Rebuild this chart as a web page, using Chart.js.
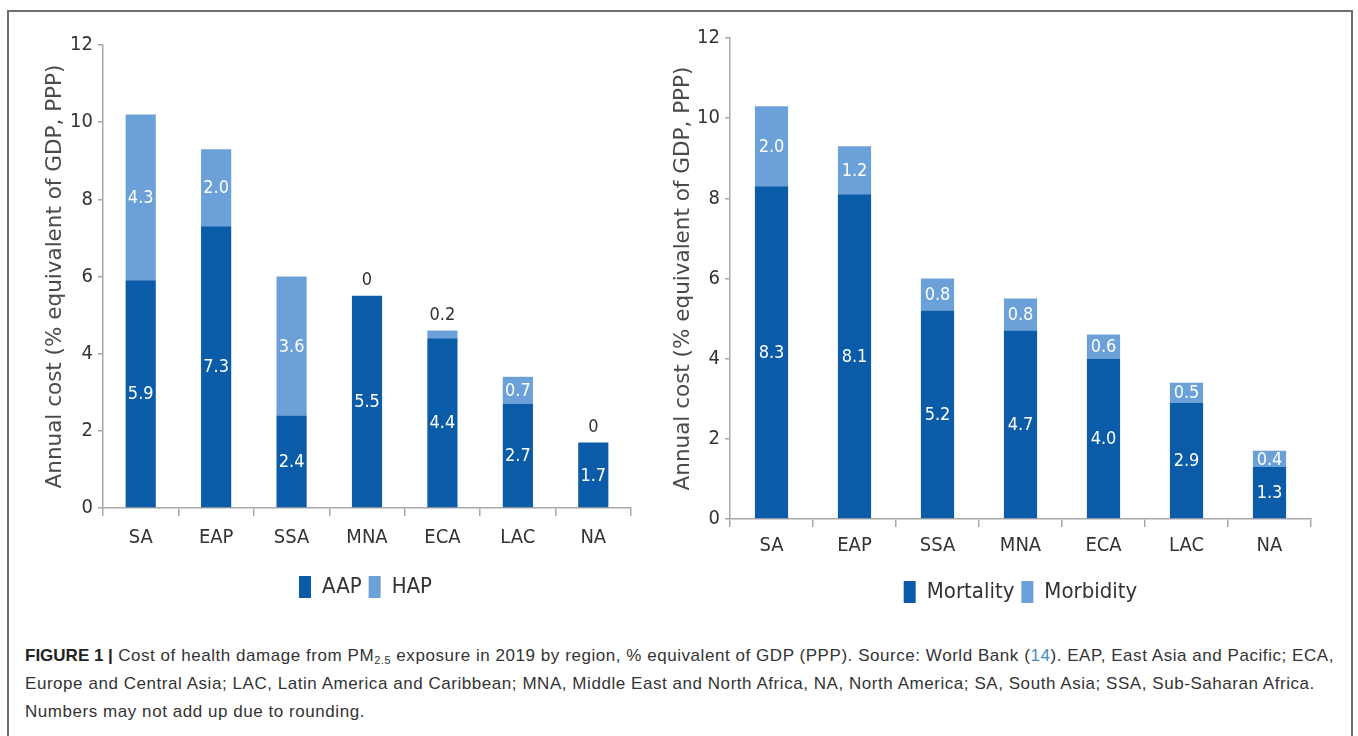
<!DOCTYPE html>
<html>
<head>
<meta charset="utf-8">
<script src="https://cdn.jsdelivr.net/npm/chart.js@4.4.1/dist/chart.umd.min.js"></script>
<style>
  html, body { margin: 0; padding: 0; background: #fff; }
  body { width: 1358px; height: 736px; position: relative; overflow: hidden; }
  .frame { position: absolute; left: 7px; top: 10px; width: 1346px; height: 760px; border: 2px solid #6e6e6e; box-sizing: border-box; }
  .box { position: absolute; }
  #left { left: 10px; top: 20px; width: 650px; height: 590px; }
  #right { left: 650px; top: 10px; width: 690px; height: 600px; }
  .caption { position: absolute; left: 25px; top: 642px; width: 1320px; font-family: 'Liberation Sans', Arial, sans-serif; font-size: 17px; letter-spacing: 0.55px; line-height: 28px; color: #333; white-space: nowrap; }
  .caption b { color: #222; letter-spacing: 0; }
  .caption sub { font-size: 11px; vertical-align: -3px; line-height: 0; }
  .caption .ref { color: #3d8fc9; }
</style>
</head>
<body>
<div class="frame"></div>
<div class="box" id="left"><canvas id="cLeft"></canvas></div>
<div class="box" id="right"><canvas id="cRight"></canvas></div>
<div class="caption">
  <b>FIGURE 1 |</b> Cost of health damage from PM<sub>2.5</sub> exposure in 2019 by region, % equivalent of GDP (PPP). Source: World Bank (<span class="ref">14</span>). EAP, East Asia and Pacific; ECA,<br>
  Europe and Central Asia; LAC, Latin America and Caribbean; MNA, Middle East and North Africa, NA, North America; SA, South Asia; SSA, Sub-Saharan Africa.<br>
  Numbers may not add up due to rounding.
</div>
<script>
const regions = ['SA', 'EAP', 'SSA', 'MNA', 'ECA', 'LAC', 'NA'];
const aap = [5.9, 7.3, 2.4, 5.5, 4.4, 2.7, 1.7];
const hap = [4.3, 2.0, 3.6, 0, 0.2, 0.7, 0];
const mortality = [8.3, 8.1, 5.2, 4.7, 4.0, 2.9, 1.3];
const morbidity = [2.0, 1.2, 0.8, 0.8, 0.6, 0.5, 0.4];
const yTitle = 'Annual cost (% equivalent of GDP, PPP)';

const DARK = '#0b5ca8';
const LIGHT = '#6ba1d8';
const AXIS = '#a8a8a8';
const NARROW = "'Liberation Sans Narrow', 'DejaVu Sans Condensed', sans-serif";

// value labels in the middle of each segment, tiny ones go above the bar
const segLabels = {
  id: 'segLabels',
  afterLayout(chart, args, opts) {
    // nudge the legend under the plot like in the original figure
    const lg = chart.legend;
    if (!lg) return;
    lg.left += opts.legendDx; lg.right += opts.legendDx;
    lg.top += opts.legendDy; lg.bottom += opts.legendDy;
  },
  afterDatasetsDraw(chart, args, opts) {
    const ctx = chart.ctx;
    ctx.save();
    ctx.font = `18px ${NARROW}`;
    ctx.textAlign = 'center';
    ctx.textBaseline = 'middle';
    chart.data.datasets.forEach((ds, di) => {
      const meta = chart.getDatasetMeta(di);
      meta.data.forEach((bar, i) => {
        const v = ds.data[i];
        const p = bar.getProps(['x', 'y', 'base'], true);
        const txt = v === 0 ? '0' : v.toFixed(1);
        if (v < opts.minInside) {
          ctx.fillStyle = '#333';
          ctx.fillText(txt, p.x, p.y - 15);
        } else {
          ctx.fillStyle = '#fff';
          ctx.fillText(txt, p.x, (p.y + p.base) / 2 + 1);
        }
      });
    });
    ctx.restore();
  }
};

function makeChart(id, names, a, b, o) {
  return new Chart(document.getElementById(id), {
    type: 'bar',
    data: {
      labels: regions,
      datasets: [
        { label: names[0], data: a, backgroundColor: DARK },
        { label: names[1], data: b, backgroundColor: LIGHT }
      ]
    },
    plugins: [segLabels],
    options: {
      responsive: true,
      maintainAspectRatio: false,
      animation: false,
      layout: { padding: o.pad },
      datasets: { bar: { categoryPercentage: 1, barPercentage: 0.4 } },
      plugins: {
        tooltip: { enabled: false },
        segLabels: { minInside: o.minInside, legendDx: o.legendDx, legendDy: o.legendDy },
        legend: {
          position: 'bottom',
          labels: {
            boxWidth: 12, boxHeight: 22, padding: 7,
            color: '#333', font: { family: NARROW, size: 22 }
          }
        }
      },
      scales: {
        x: {
          stacked: true,
          afterFit: s => { s.height = o.xHeight; },
          border: { color: AXIS, width: 1.5 },
          grid: { drawOnChartArea: false, offset: true, tickLength: 8, color: AXIS, lineWidth: 1.5 },
          ticks: { color: '#333', padding: o.xPad, font: { family: NARROW, size: 20 } }
        },
        y: {
          stacked: true,
          min: 0, max: 12,
          afterFit: s => { s.width = o.yWidth; },
          border: { color: AXIS, width: 1.5 },
          grid: { drawOnChartArea: false, tickLength: 5, color: AXIS, lineWidth: 1.5 },
          ticks: { stepSize: 2, color: '#333', padding: 5, font: { family: NARROW, size: 20 } },
          title: {
            display: true, text: yTitle, color: '#4a4a4a',
            padding: { top: o.titlePad, bottom: 0 },
            font: { family: "'DejaVu Sans', Verdana, sans-serif", size: 21.5 }
          }
        }
      }
    }
  });
}

makeChart('cLeft', ['AAP', 'HAP'], aap, hap, {
  pad: { left: 20, right: 29, top: 25, bottom: 5 },
  xHeight: 58, xPad: 10, yWidth: 73, titlePad: 13, minInside: 0.5,
  legendDx: 35, legendDy: 3
});
makeChart('cRight', ['Mortality', 'Morbidity'], mortality, morbidity, {
  pad: { left: 10, right: 29, top: 28, bottom: 0 },
  xHeight: 52, xPad: 7, yWidth: 70, titlePad: 11, minInside: 0.3,
  legendDx: 35, legendDy: 3
});
</script>
</body>
</html>
